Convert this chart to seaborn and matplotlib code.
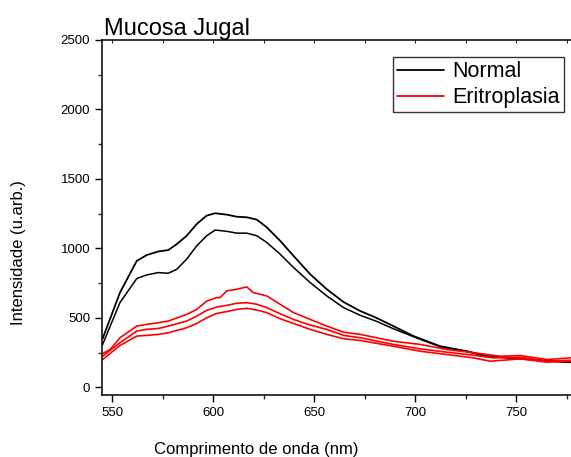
import matplotlib
matplotlib.use("Agg")
import matplotlib.pyplot as plt
from matplotlib.lines import Line2D
import seaborn as sns
import pandas as pd
import numpy as np

sns.set_style("ticks")
plt.rcParams['font.family'] = ['Liberation Sans', 'DejaVu Sans']
plt.rcParams['text.color'] = 'black'

title = "Mucosa Jugal"
xlabel = "Comprimento de onda (nm)"
ylabel = "Intensidade (u.arb.)"
legend_labels = ["Normal", "Eritroplasia"]

# Normal spectra
normal1_x = [545.3, 553.9, 562.2, 567.1, 572.9, 577.8, 582.0, 586.9, 591.9, 596.8, 601.0, 606.7,
             611.7, 616.6, 621.6, 626.5, 633.1, 639.7, 648.0, 656.2, 664.5, 672.8, 680.0, 689.1,
             699.1, 712.3, 725.5, 735.6, 748.6, 761.8, 776.7]
normal1_y = [350, 682, 910, 952, 978, 988, 1031, 1091, 1176, 1236, 1253, 1243,
             1228, 1224, 1207, 1152, 1055, 947, 814, 706, 614, 549, 505, 441,
             369, 296, 260, 224, 212, 195, 181]
normal2_x = [545.3, 553.9, 562.2, 567.1, 572.9, 577.8, 582.0, 586.9, 591.9, 596.8, 601.0, 606.7,
             611.7, 616.6, 621.6, 626.5, 633.1, 639.7, 648.0, 656.2, 664.5, 672.8, 680.0, 689.1,
             699.1, 712.3, 725.5, 735.6, 748.6, 761.8, 776.7]
normal2_y = [308, 610, 783, 809, 826, 821, 850, 923, 1019, 1091, 1132, 1123,
             1110, 1110, 1091, 1043, 959, 863, 754, 658, 574, 518, 480, 422,
             364, 292, 258, 222, 210, 193, 180]

# Eritroplasia spectra
erit1_x = [545.3, 549.0, 553.9, 562.2, 567.1, 572.9, 577.8, 586.9, 591.9, 596.8, 601.8, 603.4,
           606.7, 611.7, 616.6, 619.9, 626.5, 633.1, 639.7, 648.0, 656.2, 664.5, 672.8, 689.1,
           702.4, 715.6, 728.8, 742.0, 751.9, 765.0, 776.7]
erit1_y = [243, 272, 357, 441, 453, 465, 477, 525, 561, 621, 646, 646,
           694, 706, 723, 682, 658, 598, 538, 489, 441, 397, 381, 332,
           309, 272, 249, 224, 229, 200, 212]
erit2_x = [545.3, 553.9, 562.2, 567.1, 572.9, 577.8, 586.9, 591.9, 596.8, 601.8, 606.7, 611.7,
           616.6, 621.6, 626.5, 633.1, 639.7, 648.0, 656.2, 664.5, 672.8, 689.1, 702.4, 715.6,
           728.8, 738.7, 751.9, 765.0, 776.7]
erit2_y = [224, 321, 405, 417, 424, 441, 477, 513, 554, 578, 590, 605,
           610, 598, 574, 530, 489, 448, 417, 374, 357, 309, 277, 253,
           231, 212, 217, 188, 195]
erit3_x = [545.3, 553.9, 562.2, 567.1, 572.9, 577.8, 586.9, 591.9, 596.8, 601.8, 606.7, 611.7,
           616.6, 621.6, 626.5, 633.1, 639.7, 648.0, 656.2, 664.5, 672.8, 689.1, 702.4, 715.6,
           728.8, 737.0, 751.9, 765.0, 776.7]
erit3_y = [200, 301, 369, 374, 381, 393, 429, 460, 501, 532, 545, 561,
           569, 556, 538, 494, 460, 417, 381, 350, 337, 296, 260, 236,
           212, 188, 205, 181, 188]

fig = plt.figure(figsize=(5.71, 4.57), dpi=100)
ax = fig.add_axes([0.1786, 0.1357, 0.8214, 0.7768])

curves = [(normal1_x, normal1_y, "black", 1.3), (normal2_x, normal2_y, "black", 1.1),
          (erit1_x, erit1_y, "red", 1.2), (erit2_x, erit2_y, "red", 1.2),
          (erit3_x, erit3_y, "red", 1.2)]
for xs, ys, c, lw in curves:
    df = pd.DataFrame({"x": xs, "y": ys})
    sns.lineplot(data=df, x="x", y="y", color=c, linewidth=lw, ax=ax, legend=False)

ax.set_xlim(545, 777)
ax.set_ylim(-55, 2500)
ax.set_xticks([550, 600, 650, 700, 750])
ax.set_xticks(np.arange(575, 777, 50), minor=True)
ax.set_yticks([0, 500, 1000, 1500, 2000, 2500])
ax.set_yticks(np.arange(250, 2500, 500), minor=True)
ax.tick_params(axis='both', which='major', direction='out', length=5, width=1,
               labelsize=9.5, colors='black')
ax.tick_params(axis='both', which='minor', direction='out', length=3, width=1)
ax.tick_params(axis='x', which='both', top=False)
ax.spines['right'].set_visible(False)
for s in ['left', 'bottom', 'top']:
    ax.spines[s].set_linewidth(1.1)
    ax.spines[s].set_color('black')

# small inward ticks on the top edge
sec = ax.secondary_xaxis('top')
sec.set_xticks([550, 575, 600, 625, 650, 675, 700, 725, 750, 775])
sec.tick_params(direction='in', length=2, width=0.8, labeltop=False)
sec.spines['top'].set_visible(False)

ax.set_xlabel(xlabel, fontsize=12, color='black')
ax.xaxis.set_label_coords(0.328, -0.133)
ax.set_ylabel(ylabel, fontsize=12, color='black')
ax.yaxis.set_label_coords(-0.162, 0.40)
ax.set_title(title, fontsize=17, loc='left', pad=3, x=0.005, color='black')

handles = [Line2D([0], [0], color='black', lw=1.3), Line2D([0], [0], color='red', lw=1.3)]
leg = ax.legend(handles, legend_labels, loc='upper right', bbox_to_anchor=(0.985, 0.952),
                fontsize=15.5, frameon=True, fancybox=False, handlelength=2.15,
                handletextpad=0.4, borderpad=0.2, labelspacing=0.22, borderaxespad=0,
                labelcolor='black')
leg.get_frame().set_edgecolor('black')
leg.get_frame().set_linewidth(1.0)

fig.savefig("out.png", dpi=100)
